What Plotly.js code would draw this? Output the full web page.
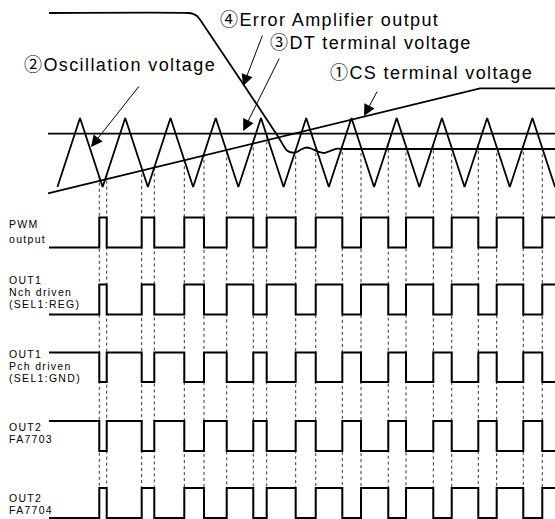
<!DOCTYPE html>
<html><head><meta charset="utf-8">
<script src="https://cdn.plot.ly/plotly-3.0.1.min.js"></script>
<style>
html,body{margin:0;padding:0;background:#fff;}
#chart{width:555px;height:519px;}
</style></head><body><div id="chart"></div>
<script>
// ---------- DATA (time: 1 unit = one oscillator period, trough at t=0) ----------
const triT = [0,0.5,1,1.5,2,2.5,3,3.5,4,4.5,5,5.5,6,6.5,7,7.5,8,8.5,9,9.5,10,10.5,11];
const triV = [0,1,0,1,0,1,0,1,0,1,0,1,0,1,0,1,0,1,0,1,0,1,0];
const csT = [-0.208, 9.342, 11.0];
const csV = [-0.094, 1.430, 1.430];
const dtT = [-0.208, 11.0];
const dtV = [0.775, 0.775];
const eaT = [-0.186, 2.887, 2.997, 3.086, 3.174, 4.898, 4.987, 5.075, 5.186, 5.296, 5.385, 5.496, 5.606, 5.761, 5.894, 6.026, 6.159, 6.358, 11.0];
const eaV = [2.522, 2.522, 2.510, 2.478, 2.406, 0.710, 0.609, 0.529, 0.500, 0.507, 0.543, 0.572, 0.558, 0.514, 0.493, 0.522, 0.554, 0.551, 0.551];
const edgeT = [0.926,1.090,1.863,2.142,2.805,3.240,3.742,4.330,4.626,5.267,5.710,6.298,6.711,7.314,7.706,8.309,8.716,9.304,9.710,10.298,10.718];
const digStartT = -0.186;
const digEndT = 11.0;
const pwmLv    = [0,1,0,1,0,1,0,1,0,1,0,1,0,1,0,1,0,1,0,1,0,1];
const nchLv    = [0,1,0,1,0,1,0,1,0,1,0,1,0,1,0,1,0,1,0,1,0,1];
const pchLv    = [1,0,1,0,1,0,1,0,1,0,1,0,1,0,1,0,1,0,1,0,1,0];
const fa7703Lv = [1,0,1,0,1,0,1,0,1,0,1,0,1,0,1,0,1,0,1,0,1,0];
const fa7704Lv = [0,1,0,1,0,1,0,1,0,1,0,1,0,1,0,1,0,1,0,1,0,1];
const rowLevels = [pwmLv, nchLv, pchLv, fa7703Lv, fa7704Lv];
const rowLabels = [["PWM","output"],["OUT1","Nch driven","(SEL1:REG)"],["OUT1","Pch driven","(SEL1:GND)"],["OUT2","FA7703"],["OUT2","FA7704"]];
const callouts = ["\u2463Error Amplifier output","\u2462DT terminal voltage","\u2461Oscillation voltage","\u2460CS terminal voltage"];

// ---------- LAYOUT GEOMETRY ----------
const W = 555, H = 519;
const T0PX = 57.4, PXPERT = 45.24;
const V0PX = 187, PXPERV = 69;
const rowPx = [[217.5,247.5],[284.5,314.5],[352.5,382],[421,451],[488,518]];
const labelPx = [[224,239],[280,292,304],[354,366,378],[426.5,438.5],[497.5,509.5]];
const labelX = 7;
const calloutPos = [[218,20],[268,43],[22,65],[328,73]];
const arrowTip = [[4.103,1.464],[4.107,0.812],[0.743,0.580],[6.777,1.029]];
const arrowTail = [[263,34],[280,57],[140,85],[378,90]];

const xRange = [-T0PX/PXPERT, (W-T0PX)/PXPERT];
const yRange = [(V0PX-H)/PXPERV, V0PX/PXPERV];

function triAt(t){
  for(let i=0;i<triT.length-1;i++){
    if(t>=triT[i] && t<=triT[i+1]){
      const f=(t-triT[i])/(triT[i+1]-triT[i]);
      return triV[i]+f*(triV[i+1]-triV[i]);
    }
  }
  return 0;
}

const traces = [];
const gx=[], gy=[];
edgeT.forEach(e=>{ gx.push(e,e,null); gy.push(triAt(e), yRange[0], null); });
traces.push({x:gx,y:gy,mode:'lines',line:{color:'#333',width:1,dash:'dot'},hoverinfo:'skip'});
const ana = {mode:'lines',line:{color:'#000',width:1.8},hoverinfo:'skip'};
traces.push(Object.assign({x:dtT,y:dtV},ana));
traces.push(Object.assign({x:csT,y:csV},ana));
traces.push(Object.assign({x:triT,y:triV},ana));
traces.push({x:eaT,y:eaV,mode:'lines',line:{color:'#000',width:1.8,shape:'spline',smoothing:0.5},hoverinfo:'skip'});

const layout = {
  width:W,height:H,margin:{l:0,r:0,t:0,b:0},
  paper_bgcolor:'#fff',plot_bgcolor:'#fff',showlegend:false,
  xaxis:{range:xRange,visible:false,fixedrange:true},
  yaxis:{range:yRange,visible:false,fixedrange:true},
  annotations:[]
};

rowLevels.forEach((lv,r)=>{
  const ax = 'y'+(r+2);
  const hi=rowPx[r][0], lo=rowPx[r][1], s=lo-hi;
  layout['yaxis'+(r+2)] = {range:[(lo-H)/s, lo/s], overlaying:'y', visible:false, fixedrange:true};
  const xs=[digStartT].concat(edgeT).concat([digEndT]);
  const ys=lv.concat([lv[lv.length-1]]);
  traces.push({x:xs,y:ys,yaxis:ax,mode:'lines',line:{color:'#000',width:2,shape:'hv'},hoverinfo:'skip'});
  rowLabels[r].forEach((txt,k)=>{
    layout.annotations.push({xref:'paper',yref:'paper',x:labelX/W,y:1-labelPx[r][k]/H,
      xanchor:'left',yanchor:'middle',align:'left',showarrow:false,text:txt,
      font:{family:'Liberation Sans, Arial, sans-serif',size:10.5,color:'#000'}});
  });
});

callouts.forEach((txt,i)=>{
  layout.annotations.push({xref:'paper',yref:'paper',x:calloutPos[i][0]/W,y:1-calloutPos[i][1]/H,
    xanchor:'left',yanchor:'middle',align:'left',showarrow:false,text:txt,
    font:{family:'Liberation Sans, Noto Sans CJK JP, Arial, sans-serif',size:18,color:'#000'}});
  const tipPxX = T0PX + arrowTip[i][0]*PXPERT, tipPxY = V0PX - arrowTip[i][1]*PXPERV;
  layout.annotations.push({xref:'x',yref:'y',x:arrowTip[i][0],y:arrowTip[i][1],
    ax:arrowTail[i][0]-tipPxX, ay:arrowTail[i][1]-tipPxY, text:'',showarrow:true,
    arrowhead:2,arrowsize:2.3,arrowwidth:1,arrowcolor:'#000',standoff:0});
});

Plotly.newPlot('chart',traces,layout,{displayModeBar:false,staticPlot:true}).then(()=>{
  document.querySelectorAll('.annotation-text').forEach(el=>{
    const fs=parseFloat(el.style.fontSize||'12');
    el.style.letterSpacing = fs>14 ? '1.4px' : '1.3px';
  });
});
</script></body></html>
